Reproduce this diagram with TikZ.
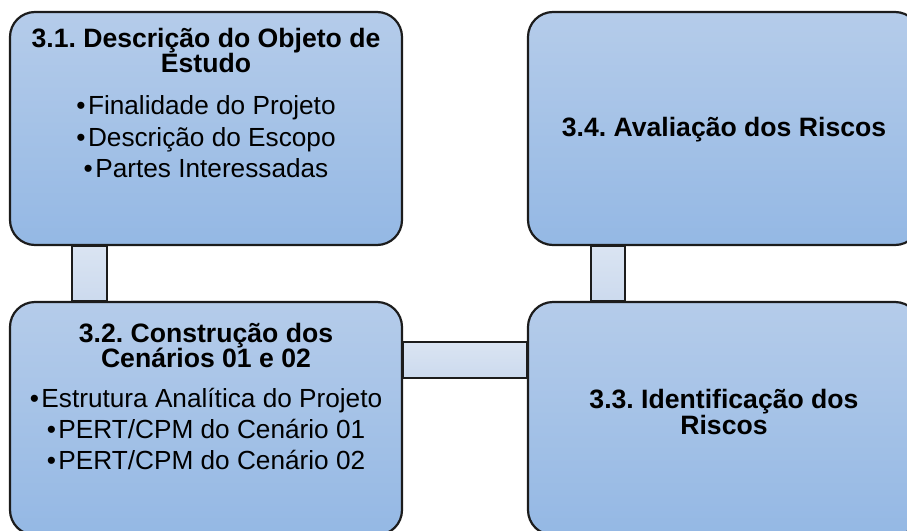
\documentclass[tikz,border=0pt]{standalone}
\usepackage{fontspec}
\setmainfont{Liberation Sans}
\usetikzlibrary{calc,backgrounds}
\definecolor{boxtop}{RGB}{181,204,234}
\definecolor{boxbot}{RGB}{148,184,228}
\definecolor{conntop}{RGB}{218,228,242}
\definecolor{connbot}{RGB}{204,218,238}
\definecolor{edge}{RGB}{28,28,28}
\newcommand{\bl}{•\hspace{2.5pt}}
\tikzset{
  box/.style={draw=edge, line width=2.2pt, rounded corners=25pt,
    top color=boxtop, bottom color=boxbot,
    minimum width=392pt, minimum height=233pt, inner sep=0pt},
  connbar/.style={draw=edge, line width=1.8pt, top color=conntop, bottom color=connbot},
  ttl/.style={font=\fontsize{26.6}{25}\selectfont\bfseries\frenchspacing, anchor=base, inner sep=0pt},
  bul/.style={font=\fontsize{26.2}{31}\selectfont\frenchspacing, anchor=base, inner sep=0pt},
}
\begin{document}
\begin{tikzpicture}[x=1pt,y=-1pt]
\useasboundingbox (0,0) rectangle (907,530);
\clip (0,0) rectangle (907,530);
% boxes
\node[box] (b31) at (206,128.5) {};
\node[box] (b34) at (724,128.5) {};
\node[box] (b32) at (206,418.5) {};
\node[box] (b33) at (724,418.5) {};
% connectors behind the boxes
\begin{pgfonlayer}{background}
\path[connbar] ($(b31.south west)+(63pt,0)$) rectangle ($(b32.north west)+(98pt,0)$);
\path[connbar] ($(b32.north east)+(0,-41pt)$) rectangle ($(b33.north west)+(0,-77pt)$);
\path[connbar] ($(b34.south west)+(64pt,0)$) rectangle ($(b33.north west)+(98pt,0)$);
\end{pgfonlayer}
% texts of 3.1
\node[ttl] (t31a) at (206,47) {3.1. Descrição do Objeto de};
\node[ttl] (t31b) at (206,72) {Estudo};
\node[bul] (t31c) at (206,114) {\bl Finalidade do Projeto};
\node[bul] (t31d) at (206,146) {\bl Descrição do Escopo};
\node[bul] (t31e) at (206,177) {\bl Partes Interessadas};
% texts of 3.2
\node[ttl] (t32a) at (206,342) {3.2. Construção dos};
\node[ttl] (t32b) at (206,367) {Cenários 01 e 02};
\node[bul] (t32c) at (206,407) {\bl Estrutura Analítica do Projeto};
\node[bul] (t32d) at (206,438) {\bl PERT/CPM do Cenário 01};
\node[bul] (t32e) at (206,469) {\bl PERT/CPM do Cenário 02};
% texts of 3.4 and 3.3
\node[ttl] (t34) at (724,136) {3.4. Avaliação dos Riscos};
\node[ttl] (t33a) at (724,408) {3.3. Identificação dos};
\node[ttl] (t33b) at (724,434) {Riscos};
\end{tikzpicture}
\end{document}
